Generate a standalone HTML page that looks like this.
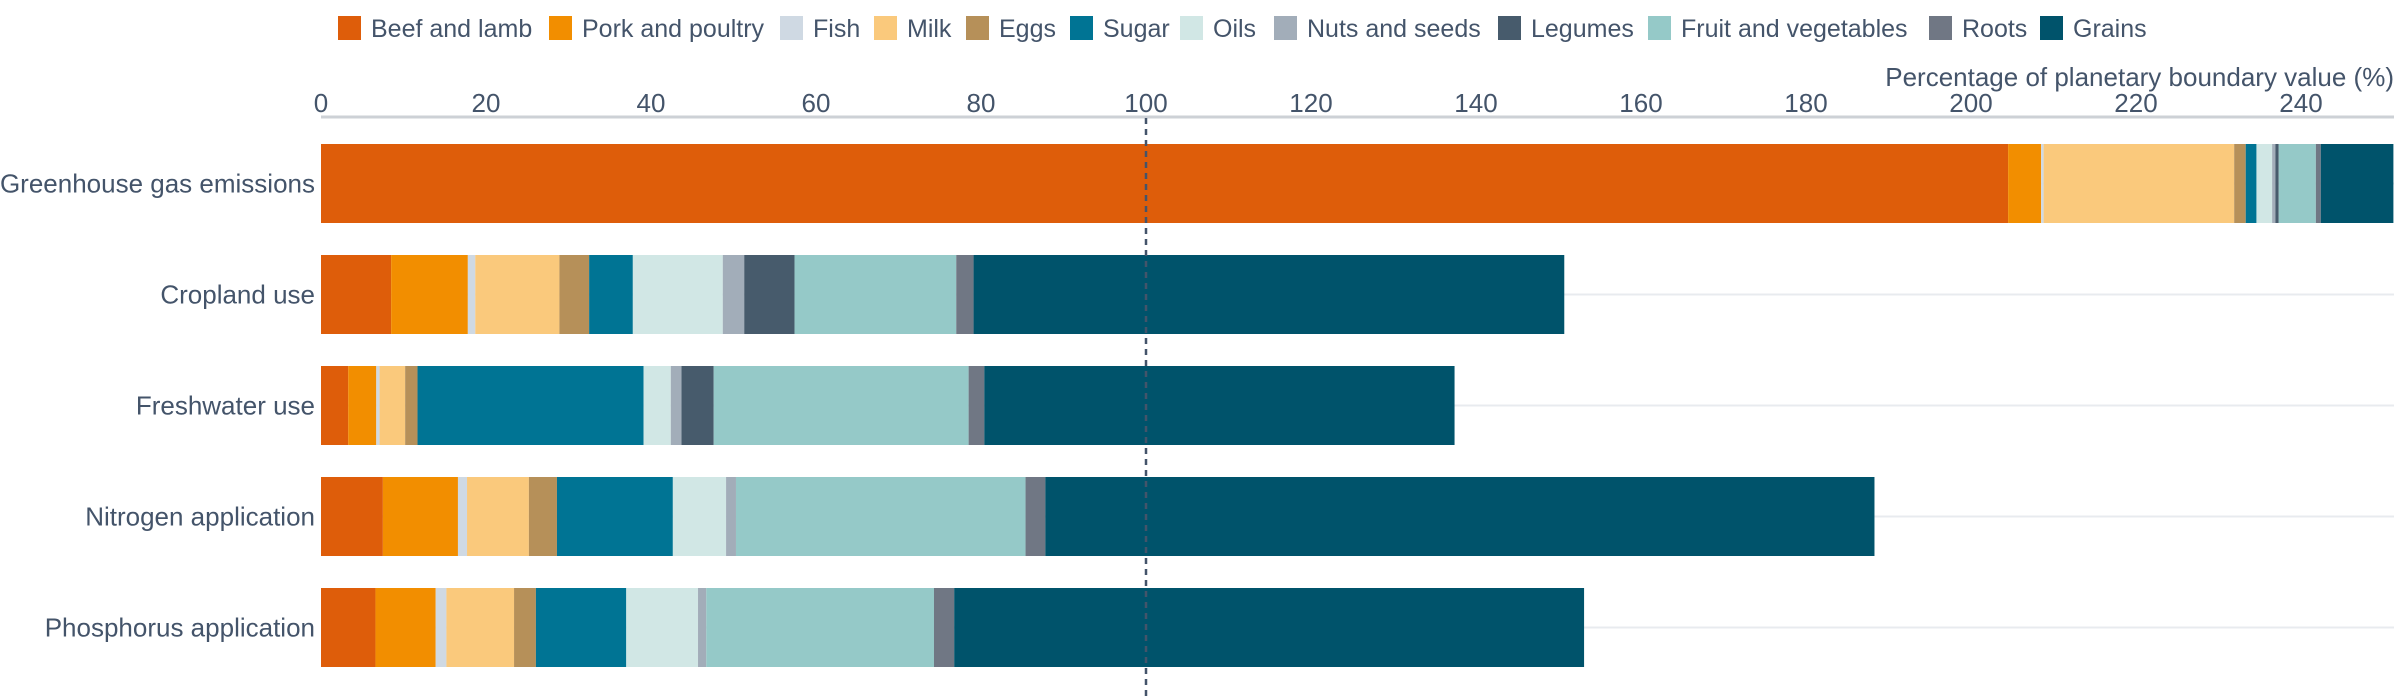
<!DOCTYPE html>
<html><head><meta charset="utf-8"><style>
body{margin:0;background:#fff;}
svg{display:block;font-family:"Liberation Sans",sans-serif;}
</style></head><body>
<svg id="chart" width="2400" height="700"></svg>
<script>
const categories = ["Greenhouse gas emissions","Cropland use","Freshwater use","Nitrogen application","Phosphorus application"];
const seriesNames = ["Beef and lamb","Pork and poultry","Fish","Milk","Eggs","Sugar","Oils","Nuts and seeds","Legumes","Fruit and vegetables","Roots","Grains"];
const beef    = [204.5, 8.5, 3.3, 7.5, 6.6];
const pork    = [4.0, 9.3, 3.4, 9.1, 7.3];
const fish    = [0.3, 0.9, 0.4, 1.1, 1.3];
const milk    = [23.1, 10.2, 3.1, 7.5, 8.2];
const eggs    = [1.4, 3.6, 1.5, 3.4, 2.65];
const sugar   = [1.3, 5.3, 27.4, 14.05, 10.95];
const oils    = [1.9, 10.9, 3.3, 6.45, 8.7];
const nuts    = [0.4, 2.6, 1.3, 1.2, 1.0];
const legumes = [0.4, 6.1, 3.9, 0, 0];
const fruitVeg= [4.5, 19.6, 30.9, 35.1, 27.6];
const roots   = [0.6, 2.1, 1.9, 2.4, 2.45];
const grains  = [8.8, 71.6, 57.0, 100.5, 76.35];
const ticks = [0,20,40,60,80,100,120,140,160,180,200,220,240];
const boundaryValue = 100;

const series = [beef,pork,fish,milk,eggs,sugar,oils,nuts,legumes,fruitVeg,roots,grains];
const colors = ["#DE5D0A","#F28E00","#CFD9E3","#FAC97C","#B69059","#007494","#D1E7E5","#A2ADB9","#475B6C","#95C9C8","#707784","#00536B"];
const slugs = ["beef-and-lamb","pork-and-poultry","fish","milk","eggs","sugar","oils","nuts-and-seeds","legumes","fruit-and-vegetables","roots","grains"];
const NS="http://www.w3.org/2000/svg";
const svg=document.getElementById('chart');
const X0=321, PX=8.25, RIGHT=2394;
const x = v => X0 + v*PX;
const bandTop=144, bandStep=111, barH=79;
const y = i => bandTop + i*bandStep;
const textColor="#44546A";
function mk(tag, attrs, parent){const e=document.createElementNS(NS,tag);for(const k in attrs)e.setAttribute(k,attrs[k]);(parent||svg).appendChild(e);return e;}

categories.forEach((c,i)=>{
  const g=mk('line',{x1:X0,x2:RIGHT,y1:y(i)+barH/2,y2:y(i)+barH/2,stroke:'#E8EBEF','stroke-width':2});
  
  
});
const ax=mk('line',{x1:X0,x2:RIGHT,y1:117,y2:117,stroke:'#CDD1D6','stroke-width':3});


ticks.forEach(t=>{
  const tl=mk('text',{x:x(t),y:112,'text-anchor':'middle','font-size':26,fill:textColor});
  tl.textContent=t;
  
  
});
const title=mk('text',{x:RIGHT,y:86,'text-anchor':'end','font-size':26,fill:textColor});
title.textContent="Percentage of planetary boundary value (%)";



categories.forEach((c,i)=>{
  let acc=0;
  series.forEach((s,k)=>{
    const v=s[i];
    if(v>0){
      const r=mk('rect',{x:x(acc),y:y(i),width:v*PX,height:barH,fill:colors[k]});
      
      
    }
    acc+=v;
  });
  const lb=mk('text',{x:315,y:y(i)+barH/2+9,'text-anchor':'end','font-size':26,fill:textColor});
  lb.textContent=c;
  
  
});
const bl=mk('line',{x1:x(boundaryValue),x2:x(boundaryValue),y1:118,y2:700,stroke:'#44546A','stroke-width':2.5,'stroke-dasharray':'6,5'});



const legX=[338,549,780,874,966,1070,1180,1274,1498,1648,1929,2040];
seriesNames.forEach((n,k)=>{
  const g=mk('g',{});
  
  
  mk('rect',{x:legX[k],y:16,width:23,height:24,fill:colors[k]},g);
  const t=mk('text',{x:legX[k]+33,y:37,'font-size':25,fill:textColor},g);
  t.textContent=n;
});
</script>
</body></html>
